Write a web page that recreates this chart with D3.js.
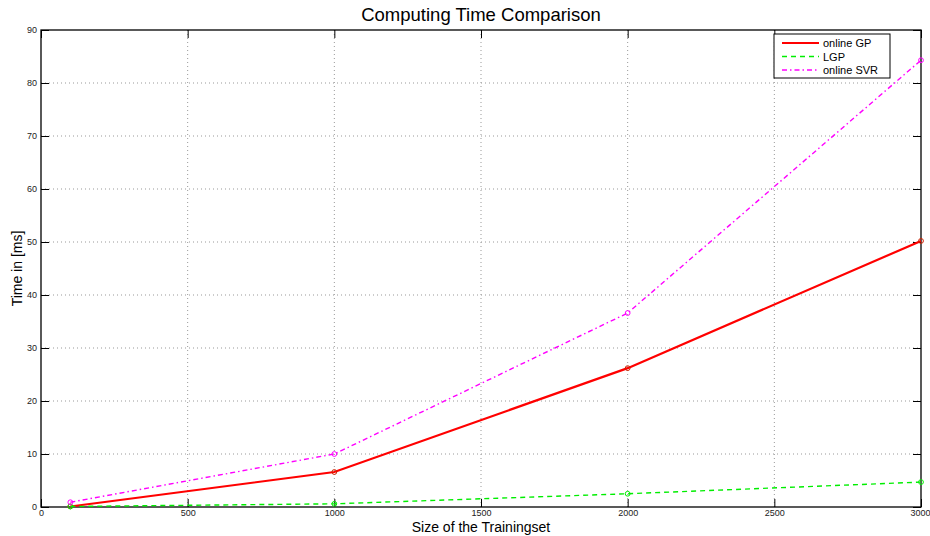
<!DOCTYPE html>
<html>
<head>
<meta charset="utf-8">
<script src="https://cdn.jsdelivr.net/npm/d3@7/dist/d3.min.js"></script>
<style>
  html, body { margin: 0; padding: 0; background: #fff; }
  svg { display: block; font-family: "Liberation Sans", Arial, sans-serif; }
</style>
</head>
<body>
<svg id="chart" width="930" height="536"></svg>
<script>
// Training set sizes and measured computing times (ms)
const trainingSizes = [100, 1000, 2000, 3000];
const onlineGP = [0.1, 6.6, 26.2, 50.2];
const lgp = [0.1, 0.6, 2.5, 4.7];
const onlineSVR = [0.9, 10.0, 36.6, 84.3];

const xTicks = [0, 500, 1000, 1500, 2000, 2500, 3000];
const yTicks = [0, 10, 20, 30, 40, 50, 60, 70, 80, 90];

const seriesNames = ["online GP", "LGP", "online SVR"];
const seriesColors = ["#ff0000", "#00ee00", "#ff00ff"];

const W = 930, H = 536;
const m = { left: 41, right: 9, top: 30, bottom: 29 };
const svg = d3.select("#chart");

const x = d3.scaleLinear().domain([0, 3000]).range([m.left, W - m.right]);
const y = d3.scaleLinear().domain([0, 90]).range([H - m.bottom, m.top]);

// dotted grid
const grid = svg.append("g");
grid.selectAll("line.gx").data(xTicks.slice(1, -1)).enter().append("line")
  .attr("x1", d => x(d)).attr("x2", d => x(d))
  .attr("y1", y(0)).attr("y2", y(90))
  .attr("stroke", "#999").attr("stroke-width", 1).attr("stroke-dasharray", "1,3");
grid.selectAll("line.gy").data(yTicks.slice(1, -1)).enter().append("line")
  .attr("x1", x(0)).attr("x2", x(3000))
  .attr("y1", d => y(d)).attr("y2", d => y(d))
  .attr("stroke", "#999").attr("stroke-width", 1).attr("stroke-dasharray", "1,3");

// axes with inward ticks on all four sides
function styleAxis(g) {
  g.select(".domain").remove();
  g.selectAll(".tick line").attr("stroke", "#000").attr("stroke-width", 1);
  g.selectAll(".tick text").attr("font-size", 9).attr("fill", "#222")
    .attr("font-family", "Liberation Sans, Arial, sans-serif");
}
const bottomAxis = svg.append("g").attr("transform", `translate(0,${y(0)})`)
  .call(d3.axisBottom(x).tickValues(xTicks).tickSize(-8).tickPadding(3).tickFormat(d3.format("d")))
  .call(styleAxis);
// keep the last label inside the canvas
bottomAxis.selectAll(".tick text").filter(d => d === 3000).attr("dx", "-1");
svg.append("g").attr("transform", `translate(0,${y(90)})`)
  .call(d3.axisTop(x).tickValues(xTicks).tickSize(-8).tickFormat(""))
  .call(styleAxis);
svg.append("g").attr("transform", `translate(${x(0)},0)`)
  .call(d3.axisLeft(y).tickValues(yTicks).tickSize(-8).tickPadding(4).tickFormat(d3.format("d")))
  .call(styleAxis);
svg.append("g").attr("transform", `translate(${x(3000)},0)`)
  .call(d3.axisRight(y).tickValues(yTicks).tickSize(-8).tickFormat(""))
  .call(styleAxis);

// frame
svg.append("rect")
  .attr("x", x(0)).attr("y", y(90))
  .attr("width", x(3000) - x(0)).attr("height", y(0) - y(90))
  .attr("fill", "none").attr("stroke", "#000").attr("stroke-width", 1.3);

// series
const seriesData = [onlineGP, lgp, onlineSVR];
const dashes = [null, "5,4", "5,3,1.5,3"];
const widths = [2.2, 1.4, 1.4];
const line = d3.line().x((d, i) => x(trainingSizes[i])).y(d => y(d));

seriesData.forEach((vals, k) => {
  const g = svg.append("g");
  g.append("path").datum(vals)
    .attr("d", line).attr("fill", "none")
    .attr("stroke", seriesColors[k]).attr("stroke-width", widths[k])
    .attr("stroke-dasharray", dashes[k]);
  g.selectAll("circle").data(vals).enter().append("circle")
    .attr("cx", (d, i) => x(trainingSizes[i])).attr("cy", d => y(d))
    .attr("r", 2.4).attr("fill", "none")
    .attr("stroke", k === 0 ? "#cc2200" : seriesColors[k]).attr("stroke-width", 1);
});

// legend
const lg = svg.append("g").attr("transform", "translate(774,34)");
lg.append("rect").attr("width", 116).attr("height", 44)
  .attr("fill", "#fff").attr("stroke", "#000").attr("stroke-width", 1);
seriesNames.forEach((name, k) => {
  const yy = 9 + k * 13.5;
  lg.append("line").attr("x1", 8).attr("x2", 45).attr("y1", yy).attr("y2", yy)
    .attr("stroke", seriesColors[k]).attr("stroke-width", widths[k])
    .attr("stroke-dasharray", dashes[k]);
  lg.append("text").attr("x", 49).attr("y", yy + 4)
    .attr("font-size", 11).attr("fill", "#000").text(name);
});

// titles
svg.append("text").attr("x", (x(0) + x(3000)) / 2).attr("y", 21)
  .attr("text-anchor", "middle").attr("font-size", 18.5).attr("fill", "#000")
  .text("Computing Time Comparison");
svg.append("text").attr("x", (x(0) + x(3000)) / 2).attr("y", 532)
  .attr("text-anchor", "middle").attr("font-size", 14).attr("fill", "#000")
  .text("Size of the Trainingset");
svg.append("text")
  .attr("transform", `translate(22,${(y(0) + y(90)) / 2}) rotate(-90)`)
  .attr("text-anchor", "middle").attr("font-size", 14).attr("fill", "#000")
  .text("Time in [ms]");
</script>
</body>
</html>
